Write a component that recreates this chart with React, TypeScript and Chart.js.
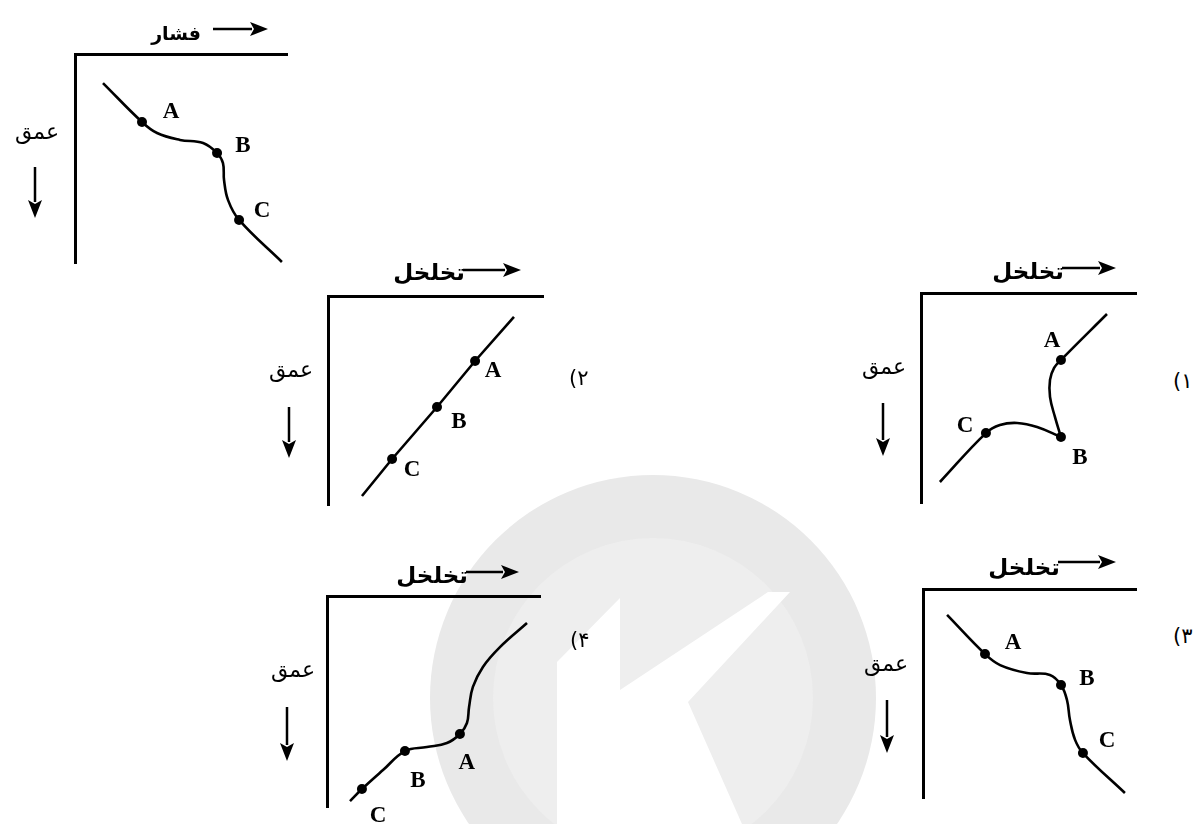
import React, { useEffect, useRef } from "react";
import { Chart, registerables } from "chart.js";

Chart.register(...registerables);

// ---------------- DATA (panel units: x 0..10 left→right, depth 0..10 top→bottom) ----------------
const markLabels = ["A", "B", "C"];

// reference panel: pressure (فشار) vs depth
const pressureCurve = [
  { x: 1.32, y: 1.39 }, { x: 3.16, y: 3.25 }, { x: 3.87, y: 3.78 }, { x: 4.95, y: 4.11 },
  { x: 6.04, y: 4.26 }, { x: 6.7, y: 4.74 }, { x: 6.98, y: 5.22 }, { x: 7.03, y: 6.03 },
  { x: 7.22, y: 6.99 }, { x: 7.74, y: 7.94 }, { x: 9.76, y: 9.95 },
];
const pressureMarks = [{ x: 3.16, y: 3.25 }, { x: 6.7, y: 4.74 }, { x: 7.74, y: 7.94 }];

// option 1: porosity vs depth (two strokes meeting at B)
const option1LowerStroke = [
  { x: 0.88, y: 9.0 }, { x: 3.02, y: 6.67 }, { x: 3.67, y: 6.29 }, { x: 4.47, y: 6.19 },
  { x: 5.4, y: 6.38 }, { x: 6.51, y: 6.86 },
];
const option1UpperStroke = [
  { x: 6.51, y: 6.86 }, { x: 6.23, y: 5.9 }, { x: 6.0, y: 4.95 }, { x: 6.0, y: 4.14 },
  { x: 6.19, y: 3.57 }, { x: 6.51, y: 3.19 }, { x: 8.65, y: 1.0 },
];
const option1Marks = [{ x: 6.51, y: 3.19 }, { x: 6.51, y: 6.86 }, { x: 3.02, y: 6.67 }];

// option 2: straight line
const option2Line = [
  { x: 1.58, y: 9.57 }, { x: 2.98, y: 7.8 }, { x: 5.07, y: 5.31 }, { x: 6.84, y: 3.11 }, { x: 8.65, y: 1.0 },
];
const option2Marks = [{ x: 6.84, y: 3.11 }, { x: 5.07, y: 5.31 }, { x: 2.98, y: 7.8 }];

// option 3: same shape as pressure curve
const option3Curve = [
  { x: 1.13, y: 1.24 }, { x: 2.91, y: 3.11 }, { x: 3.62, y: 3.64 }, { x: 4.88, y: 4.02 },
  { x: 5.96, y: 4.11 }, { x: 6.48, y: 4.59 }, { x: 6.76, y: 5.31 }, { x: 6.9, y: 6.27 },
  { x: 7.14, y: 7.22 }, { x: 7.51, y: 7.85 }, { x: 9.48, y: 9.76 },
];
const option3Marks = [{ x: 2.91, y: 3.11 }, { x: 6.48, y: 4.59 }, { x: 7.51, y: 7.85 }];

// option 4
const option4Curve = [
  { x: 1.08, y: 9.72 }, { x: 1.64, y: 9.15 }, { x: 2.63, y: 8.25 }, { x: 3.66, y: 7.35 },
  { x: 4.69, y: 7.16 }, { x: 5.63, y: 6.97 }, { x: 6.24, y: 6.54 }, { x: 6.57, y: 6.02 },
  { x: 6.67, y: 5.26 }, { x: 6.85, y: 4.31 }, { x: 7.32, y: 3.36 }, { x: 8.12, y: 2.42 },
  { x: 9.39, y: 1.28 },
];
const option4Marks = [{ x: 6.24, y: 6.54 }, { x: 3.66, y: 7.35 }, { x: 1.64, y: 9.15 }];

const depthLabel = "عمق";
const pressureLabel = "فشار";
const porosityLabel = "تخلخل";
const optionNumbers = ["(۱", "(۲", "(۳", "(۴"];

// ---------------- LAYOUT / STYLE ----------------
const PAD = 30;
const PERSIAN_FONT = "'DejaVu Sans', sans-serif";

type Pt = { x: number; y: number };
type PanelSpec = {
  box: { left: number; top: number; right: number; bottom: number };
  strokes: Pt[][];
  marks: Pt[];
  labelOffsets: [number, number][];
  tension: number;
  title: { text: string; right: number; cy: number; size: number };
  hArrow: { x1: number; x2: number; y: number };
  depth: { cx: number; cy: number };
  vArrow: { x: number; y1: number; y2: number };
  number?: { text: string; left: number; cy: number };
};

const panels: PanelSpec[] = [
  {
    box: { left: 75, top: 54, right: 287, bottom: 263 },
    strokes: [pressureCurve],
    marks: pressureMarks,
    labelOffsets: [[29, -11], [26, -8], [23, -10]],
    tension: 0.4,
    title: { text: pressureLabel, right: 201, cy: 33, size: 19 },
    hArrow: { x1: 213, x2: 268, y: 29 },
    depth: { cx: 37, cy: 132 },
    vArrow: { x: 35, y1: 167, y2: 218 },
  },
  {
    box: { left: 328, top: 296, right: 543, bottom: 505 },
    strokes: [option2Line],
    marks: option2Marks,
    labelOffsets: [[18, 9], [22, 14], [20, 10]],
    tension: 0,
    title: { text: porosityLabel, right: 465, cy: 272, size: 23 },
    hArrow: { x1: 463, x2: 521, y: 270 },
    depth: { cx: 291, cy: 370 },
    vArrow: { x: 289, y1: 407, y2: 458 },
    number: { text: optionNumbers[1], left: 569, cy: 378 },
  },
  {
    box: { left: 921, top: 293, right: 1136, bottom: 503 },
    strokes: [option1LowerStroke, option1UpperStroke],
    marks: option1Marks,
    labelOffsets: [[-9, -20], [19, 20], [-21, -8]],
    tension: 0.4,
    title: { text: porosityLabel, right: 1064, cy: 271, size: 23 },
    hArrow: { x1: 1062, x2: 1116, y: 268 },
    depth: { cx: 884, cy: 367 },
    vArrow: { x: 883, y1: 403, y2: 456 },
    number: { text: optionNumbers[0], left: 1173, cy: 381 },
  },
  {
    box: { left: 327, top: 596, right: 540, bottom: 807 },
    strokes: [option4Curve],
    marks: option4Marks,
    labelOffsets: [[7, 28], [13, 29], [16, 26]],
    tension: 0.4,
    title: { text: porosityLabel, right: 468, cy: 575, size: 23 },
    hArrow: { x1: 466, x2: 519, y: 572 },
    depth: { cx: 293, cy: 670 },
    vArrow: { x: 287, y1: 707, y2: 761 },
    number: { text: optionNumbers[3], left: 570, cy: 640 },
  },
  {
    box: { left: 923, top: 589, right: 1136, bottom: 798 },
    strokes: [option3Curve],
    marks: option3Marks,
    labelOffsets: [[28, -12], [26, -7], [24, -13]],
    tension: 0.4,
    title: { text: porosityLabel, right: 1060, cy: 567, size: 23 },
    hArrow: { x1: 1058, x2: 1116, y: 562 },
    depth: { cx: 886, cy: 664 },
    vArrow: { x: 887, y1: 700, y2: 753 },
    number: { text: optionNumbers[2], left: 1173, cy: 636 },
  },
];

function PanelChart({ spec }: { spec: PanelSpec }) {
  const ref = useRef<HTMLCanvasElement>(null);
  const w = spec.box.right - spec.box.left + PAD * 2;
  const h = spec.box.bottom - spec.box.top + PAD * 2;

  useEffect(() => {
    const markIndex = spec.strokes.length;
    const labelPlugin = {
      id: "markLabels",
      afterDatasetsDraw(chart: any) {
        const ctx = chart.ctx;
        const meta = chart.getDatasetMeta(markIndex);
        ctx.save();
        ctx.fillStyle = "#000";
        ctx.font = "bold 23px 'Liberation Serif', 'Times New Roman', serif";
        ctx.textAlign = "center";
        ctx.textBaseline = "middle";
        meta.data.forEach((el: any, i: number) => {
          const [dx, dy] = spec.labelOffsets[i];
          ctx.fillText(markLabels[i], el.x + dx, el.y + dy + 1);
        });
        ctx.restore();
      },
    };
    const axisCommon = {
      type: "linear" as const,
      min: 0,
      max: 10,
      grid: { display: false, drawTicks: false, tickLength: 0 },
      ticks: { display: false },
      border: { display: true, color: "#000", width: 3 },
    };
    const chart = new Chart(ref.current as HTMLCanvasElement, {
      type: "scatter",
      data: {
        datasets: [
          ...spec.strokes.map((s) => ({
            data: s,
            showLine: true,
            borderColor: "#000",
            borderWidth: 2.6,
            pointRadius: 0,
            tension: spec.tension,
            clip: false as any,
          })),
          {
            data: spec.marks,
            showLine: false,
            pointRadius: 5,
            pointBackgroundColor: "#000",
            pointBorderColor: "#000",
            pointBorderWidth: 0,
            clip: false as any,
          },
        ],
      },
      options: {
        animation: false,
        responsive: false,
        events: [],
        layout: { padding: PAD },
        plugins: { legend: { display: false }, tooltip: { enabled: false } },
        scales: {
          x: { ...axisCommon, position: "top" },
          y: { ...axisCommon, position: "left", reverse: true },
        },
      } as any,
      plugins: [labelPlugin],
    });
    return () => chart.destroy();
  }, []);

  return (
    <canvas
      ref={ref}
      width={w}
      height={h}
      style={{ position: "absolute", left: spec.box.left - PAD, top: spec.box.top - PAD, width: w, height: h }}
    />
  );
}

function Decorations() {
  const hl = 18;
  return (
    <svg width={1196} height={824} style={{ position: "absolute", left: 0, top: 0 }}>
      {/* watermark */}
      <circle cx={653} cy={698} r={223} fill="#e9e9e9" />
      <circle cx={653} cy={698} r={160} fill="#eeeeee" />
      <polygon
        points="557,824 557,662 620,598 620,690 768,592 790,592 688,702 742,824"
        fill="#ffffff"
      />
      {panels.map((p, i) => (
        <g key={i} fill="#000" stroke="#000">
          <line x1={p.hArrow.x1} y1={p.hArrow.y} x2={p.hArrow.x2 - hl + 2} y2={p.hArrow.y} strokeWidth={2.5} />
          <polygon
            stroke="none"
            points={`${p.hArrow.x2},${p.hArrow.y} ${p.hArrow.x2 - hl},${p.hArrow.y - 7} ${p.hArrow.x2 - hl + 4},${p.hArrow.y} ${p.hArrow.x2 - hl},${p.hArrow.y + 7}`}
          />
          <line x1={p.vArrow.x} y1={p.vArrow.y1} x2={p.vArrow.x} y2={p.vArrow.y2 - hl + 2} strokeWidth={2.5} />
          <polygon
            stroke="none"
            points={`${p.vArrow.x},${p.vArrow.y2} ${p.vArrow.x - 7},${p.vArrow.y2 - hl} ${p.vArrow.x},${p.vArrow.y2 - hl + 4} ${p.vArrow.x + 7},${p.vArrow.y2 - hl}`}
          />
        </g>
      ))}
    </svg>
  );
}

export default function App() {
  const textBase: React.CSSProperties = {
    position: "absolute",
    fontFamily: PERSIAN_FONT,
    lineHeight: 1,
    whiteSpace: "nowrap",
    color: "#000",
  };
  return (
    <div
      style={{
        position: "absolute",
        left: 0,
        top: 0,
        width: 1196,
        height: 824,
        overflow: "hidden",
        background: "#fff",
      }}
    >
      <Decorations />
      {panels.map((p, i) => (
        <PanelChart key={i} spec={p} />
      ))}
      {panels.map((p, i) => (
        <React.Fragment key={"t" + i}>
          <div
            dir="rtl"
            style={{
              ...textBase,
              left: p.title.right,
              top: p.title.cy,
              transform: "translate(-100%, -50%)",
              fontSize: p.title.size,
              fontWeight: "bold",
            }}
          >
            {p.title.text}
          </div>
          <div
            dir="rtl"
            style={{
              ...textBase,
              left: p.depth.cx,
              top: p.depth.cy,
              transform: "translate(-50%, -50%)",
              fontSize: 22,
            }}
          >
            {depthLabel}
          </div>
          {p.number && (
            <div
              dir="ltr"
              style={{
                ...textBase,
                left: p.number.left,
                top: p.number.cy,
                transform: "translate(0, -50%)",
                fontSize: 21,
              }}
            >
              {p.number.text}
            </div>
          )}
        </React.Fragment>
      ))}
    </div>
  );
}
